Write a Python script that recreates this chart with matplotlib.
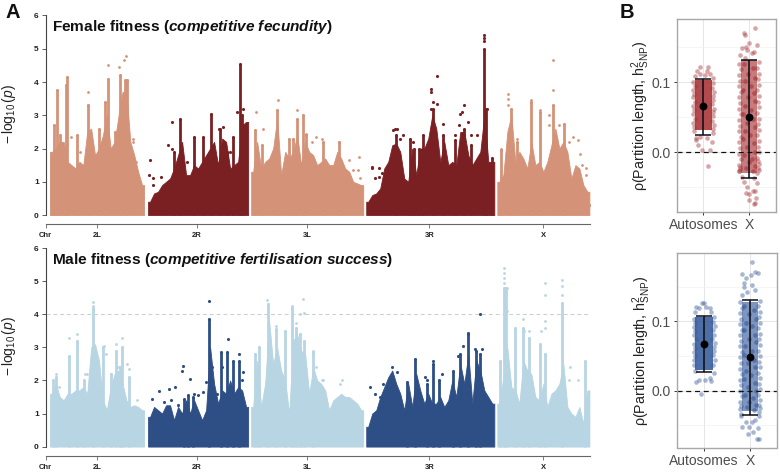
import matplotlib
matplotlib.use("Agg")
import matplotlib.pyplot as plt

plt.rcParams['font.family'] = ['Liberation Sans', 'DejaVu Sans']
plt.rcParams['mathtext.fontset'] = 'custom'
plt.rcParams['mathtext.rm'] = 'Liberation Sans'
plt.rcParams['mathtext.it'] = 'Liberation Sans:italic'
plt.rcParams['mathtext.bf'] = 'Liberation Sans:bold'
plt.rcParams['mathtext.bfit'] = 'Liberation Sans:italic:bold'

# genome layout (Mb)
arm_names = ['2L', '2R', '3L', '3R', 'X']
arm_start = [0.0, 24.5, 50.25, 79.0, 111.75]
arm_len = [23.5, 25.0, 28.0, 32.0, 23.0]
arm_tick = [11.7, 36.75, 64.2, 94.75, 123.25]

# Female: envelope of -log10(p) along each arm
f_2L = [1.9,2.0,2.2,2.2,1.6,1.5,1.4,1.6,1.5,2.5,2.6,1.8,2.0,2.4,3.0,2.0,2.2,3.0,3.7,3.7,2.2,1.8,1.3,0.9]
f_2R = [0.4,0.65,0.7,0.9,1.0,1.1,1.4,1.8,2.2,1.2,1.2,1.5,1.4,1.6,1.8,2.0,2.2,1.5,2.3,2.2,1.4,1.5,1.6,2.7,2.8]
f_3L = [1.3,2.2,1.4,1.6,1.7,2.0,2.9,1.2,1.9,1.7,1.9,2.4,1.5,2.2,1.9,1.8,1.5,1.6,1.7,1.5,1.5,1.9,1.7,1.4,1.3,1.0,0.95,0.9]
f_3R = [0.4,0.6,0.65,0.8,1.4,1.6,2.1,2.15,1.9,1.1,1.0,2.0,1.2,2.0,2.0,2.3,3.0,2.6,1.6,2.2,1.5,1.6,1.5,2.5,2.5,1.8,1.5,1.7,1.9,3.0,1.6,1.6]
f_X = [1.0,1.2,2.5,3.0,1.6,1.9,1.7,1.4,2.2,1.5,1.6,1.3,1.6,2.1,2.6,2.0,2.2,1.9,1.1,1.5,1.4,0.9,0.7]
f_envelope = [f_2L, f_2R, f_3L, f_3R, f_X]
# narrow peaks
f_peak_x = [1.1,1.8,2.5,3.9,4.3,6.8,9.6,12.2,13.8,14.5,16.2,17.4,18.75,19.2,
            31.1,32.6,35.9,38.2,40.2,42.5,44.2,45.8,47.5,48.0,
            51.3,53.0,56.8,59.7,60.8,61.8,63.2,64.0,68.3,72.1,
            86.5,90.0,91.0,92.3,93.3,95.8,98.3,101.1,103.3,105.2,108.3,109.0,110.4,
            112.75,115.2,116.7,120.2,122.3,125.7,128.3]
f_peak_h = [2.7,3.75,2.4,3.9,4.15,2.4,3.3,2.6,3.4,4.1,2.5,4.2,4.05,4.05,
            1.9,2.9,2.35,2.35,3.05,2.6,1.9,2.35,4.55,3.0,
            2.55,2.1,3.15,2.3,2.3,2.9,3.0,2.4,2.2,2.2,
            2.4,2.3,2.0,2.0,2.4,3.2,2.4,2.25,2.6,2.1,5.0,3.2,1.7,
            1.95,3.2,2.2,3.4,3.1,3.3,2.75]
# isolated SNPs on light arms, then dark arms
f_light_x = [14.4,17.25,18.6,19.0,9.6,5.2,20.7,20.8,21.5,7.5,
             51.4,53.1,56.9,61.75,66.5,65.4,64.0,67.9,77.1,72.1,74.6,75.8,76.9,77.5,
             125.75,125.75,114.4,114.4,114.4,120.2,122.3,124.75,124.75,130.7,131.8,116.7,112.75,133.9,133.9,134.8,127.1,129.6,132.5,132.9]
f_light_y = [4.5,4.45,4.65,4.78,3.7,2.35,2.3,2.2,1.6,1.9,
             3.1,2.6,3.45,3.15,2.35,2.2,2.45,2.3,1.75,2.2,1.65,1.35,1.35,1.1,
             4.65,3.75,3.65,3.5,3.3,3.45,3.15,3.0,2.7,2.35,2.25,2.3,2.0,1.4,1.2,0.3,2.7,2.2,1.85,1.5]
f_dark_x = [24.9,24.75,25.8,25.8,27.8,29.5,30.5,30.5,34.2,42.25,43.3,45.0,46.8,48.3,49.0,
            108.3,108.3,108.3,96.6,95.25,95.25,95.8,96.6,95.25,103.3,102.9,102.5,98.2,102.1,104.3,86.25,85.7,86.7,88.3,87.5,
            80.4,80.4,82.3,81.25,82.3,82.9,109.2,90.8,106.7,105.2,101.25]
f_dark_y = [1.65,1.2,0.9,1.1,1.15,2.1,2.0,2.8,1.6,2.6,2.65,1.9,3.1,3.2,2.2,
            5.4,5.33,5.23,4.18,3.8,3.7,3.4,3.35,3.2,3.3,3.1,3.05,2.75,2.7,2.8,2.6,2.55,2.6,2.4,2.3,
            1.45,1.4,1.4,1.1,1.15,1.25,3.2,2.2,2.4,2.4,2.4]

# Male
m_2L = [1.6,1.9,1.5,1.4,1.6,1.6,1.7,1.7,1.8,1.6,3.0,3.1,2.6,1.4,1.1,1.8,2.2,2.3,1.9,1.4,1.2,1.25,1.2,1.1]
m_2R = [0.9,1.2,1.1,1.0,1.25,1.25,0.8,1.2,1.0,1.4,1.0,1.4,1.1,0.8,1.1,3.0,1.9,1.3,1.7,1.6,2.0,1.6,1.8,1.7,1.2]
m_3L = [1.2,2.6,1.2,1.9,3.8,2.5,3.0,2.3,2.0,1.0,3.2,3.4,2.9,2.8,1.6,2.4,2.0,1.9,1.7,1.1,1.4,1.5,1.6,1.5,1.5,1.4,1.3,1.1]
m_3R = [0.6,1.0,1.1,1.5,1.8,2.1,2.3,1.9,1.6,1.1,1.9,1.2,2.2,1.7,1.3,1.6,1.3,1.3,1.5,1.2,1.4,2.0,1.5,2.5,1.9,2.8,1.3,2.6,2.3,1.7,1.5,1.3]
m_X = [1.3,2.1,3.0,1.8,1.7,1.3,2.6,2.3,2.2,1.5,1.4,1.9,1.2,1.6,1.7,1.9,2.5,1.2,1.0,0.9,1.2,0.7,1.7]
m_envelope = [m_2L, m_2R, m_3L, m_3R, m_X]
m_peak_x = [0.8,1.5,4.75,6.8,8.6,10.8,13.2,15.25,16.4,17.5,18.1,19.8,
            33.5,34.6,35.7,39.8,42.7,44.3,45.6,47.25,
            51.25,52.1,54.4,56.5,58.8,60.5,61.5,62.5,63.5,65.6,
            89.3,91.25,94.2,95.8,97.3,100.6,102.5,104.3,106.3,107.5,
            112.5,113.5,113.8,116.25,118.1,119.75,122.5,123.75,128.0,133.75]
m_peak_h = [2.0,2.1,2.75,3.2,2.0,4.2,3.0,2.2,2.9,2.4,3.0,2.1,
            1.45,1.55,1.5,3.85,2.85,2.85,2.6,2.6,
            2.8,3.0,4.3,3.55,3.5,4.2,3.6,3.4,3.2,2.85,
            1.95,2.65,1.9,2.5,2.0,2.3,2.8,3.4,2.9,2.8,
            2.6,4.8,4.8,3.6,3.6,3.3,3.1,2.8,4.35,2.6]
m_light_x = [10.8,10.8,10.8,4.75,6.8,13.6,16.4,18.1,19.2,19.8,21.7,1.5,2.3,8.75,9.3,14.0,17.1,
             54.25,60.5,63.2,62.5,63.5,56.5,61.5,65.6,66.5,67.9,72.9,72.5,68.3,
             113.5,113.5,113.5,113.5,114.25,114.25,123.7,123.7,128.0,128.0,128.0,118.1,123.75,123.75,118.5,119.7,122.75,130.0,131.9,129.6]
m_light_y = [4.38,4.25,4.15,3.3,3.4,3.05,3.1,3.3,2.5,2.35,1.4,2.2,1.8,2.2,2.2,2.8,2.4,
             4.45,4.25,4.47,4.0,4.05,3.65,3.75,2.9,2.4,2.0,2.0,1.9,2.0,
             5.4,5.25,5.1,4.95,4.8,4.1,4.95,4.6,5.05,4.85,4.6,3.85,3.8,3.6,3.5,3.5,3.5,2.4,2.0,2.0]
m_dark_x = [39.8,44.4,33.3,33.1,35.0,38.9,38.2,27.3,29.7,31.25,25.6,28.5,30.2,32.1,48.3,41.8,42.9,47.25,40.4,47.9,36.1,36.9,
            107.3,104.3,103.1,101.9,106.25,107.8,95.8,97.9,93.8,85.5,86.8,80.0,81.25,82.5,83.3,94.2]
m_dark_y = [4.4,3.27,2.43,2.3,2.05,1.95,1.65,1.67,1.75,1.8,1.45,1.35,1.4,1.25,2.25,1.6,2.4,2.8,2.4,2.0,1.6,1.55,
            4.0,3.45,3.05,2.75,2.95,2.95,2.6,2.2,2.1,2.4,2.25,1.8,1.6,1.5,1.9,2.0]

# Panel B: strips (dense core range, stray points as jitter offset / value, summary)
b_groups = ['Autosomes', 'X']
fa_core = (0.032, 0.103)
fx_core = (-0.030, 0.132)
fa_off = [0.11,-0.04,0.15,-0.16,-0.11,-0.17,0.18,0.07,-0.07,-0.07,0.09,-0.15,-0.07,0.07,0.15,-0.18,0.04,0.22,
          -0.22,-0.19,-0.23,-0.20,-0.22,-0.18,-0.23,-0.20,-0.22,-0.19,-0.23,-0.21,-0.20,
          0.22,0.19,0.23,0.20,0.22,0.18,0.23,0.21,0.22,0.19,0.23,0.20,0.21]
fa_val = [-0.019,0.003,0.003,0.017,0.010,0.02,0.015,0.02,0.022,0.122,0.122,0.115,0.112,0.116,0.112,0.108,0.110,0.105,
          0.100,0.094,0.089,0.083,0.078,0.072,0.066,0.060,0.054,0.048,0.042,0.036,0.030,
          0.098,0.092,0.086,0.080,0.074,0.068,0.062,0.057,0.051,0.045,0.039,0.033,0.027]
fx_off = [0.13,-0.12,-0.09,-0.01,-0.16,-0.07,0.17,0.11,0.06,-0.2,-0.05,-0.09,-0.21,-0.16,0.17,0.11,-0.12,0.17,-0.05,-0.01,-0.07,0.13,0.08,0,0.13,0.15,0.11,
          -0.21,-0.18,-0.22,-0.19,-0.21,-0.17,-0.22,-0.20,-0.21,-0.18,-0.22,-0.19,-0.21,-0.17,-0.22,-0.20,-0.21,-0.18,-0.22,-0.19,-0.21,-0.20,
          0.21,0.18,0.22,0.19,0.21,0.17,0.22,0.20,0.21,0.18,0.22,0.19,0.21,0.17,0.22,0.20,0.21,0.18,0.22,0.19,0.21,0.20]
fx_val = [0.177,0.169,0.167,0.156,0.149,0.15,0.152,0.143,0.141,0.138,0.145,0.134,-0.027,-0.035,-0.03,-0.037,-0.042,-0.043,-0.049,-0.06,-0.058,-0.055,-0.055,-0.068,-0.072,-0.065,-0.073,
          0.126,0.118,0.110,0.102,0.094,0.086,0.078,0.070,0.062,0.054,0.046,0.038,0.030,0.022,0.014,0.006,-0.002,-0.010,-0.018,-0.024,-0.026,-0.021,
          0.128,0.120,0.112,0.104,0.096,0.088,0.080,0.072,0.064,0.056,0.048,0.040,0.032,0.024,0.016,0.008,0.000,-0.008,-0.016,-0.022,-0.025,-0.012]
# speckle inside the X strip
fx_sp_off = [-0.12,0.08,-0.03,0.13,-0.08,0.05,-0.14,0.11,-0.02,0.14,-0.10,0.04,-0.13,0.09,-0.05,0.12,-0.09,0.02,-0.14,0.10,-0.04,0.13,-0.11,0.06,-0.01,0.14,-0.07,0.08]
fx_sp_val = [0.125,0.120,0.112,0.106,0.101,0.095,0.089,0.084,0.078,0.073,0.066,0.060,0.054,0.047,0.041,0.036,0.030,0.024,0.019,0.013,0.007,0.001,-0.004,-0.009,-0.014,-0.019,-0.023,-0.027]
f_mean = [0.066, 0.050]
f_low = [0.025, -0.037]
f_high = [0.104, 0.132]
ma_core = (0.030, 0.107)
mx_core = (-0.030, 0.128)
ma_off = [-0.07,0.16,0.015,-0.17,-0.1,0.12,-0.04,0,-0.17,0.12,-0.1,0.05,-0.2,0.16,
          -0.22,-0.19,-0.23,-0.20,-0.22,-0.18,-0.23,-0.20,-0.22,-0.19,-0.23,-0.21,-0.20,
          0.22,0.19,0.23,0.20,0.22,0.18,0.23,0.21,0.22,0.19,0.23,0.20,0.21]
ma_val = [-0.005,0.014,0.015,0.012,0.015,0.018,0.127,0.127,0.121,0.119,0.119,0.121,0.114,0.114,
          0.104,0.098,0.092,0.086,0.080,0.074,0.068,0.062,0.056,0.050,0.044,0.037,0.029,
          0.106,0.099,0.093,0.087,0.081,0.075,0.069,0.063,0.057,0.051,0.044,0.037,0.026]
mx_off = [0.04,0.12,0.18,0.02,-0.18,-0.09,-0.13,0.04,-0.14,0.12,-0.07,-0.18,-0.19,0.19,0.12,-0.09,0.04,-0.18,-0.03,0.18,0.07,-0.05,0.15,0.19,
          -0.21,-0.18,-0.22,-0.19,-0.21,-0.17,-0.22,-0.20,-0.21,-0.18,-0.22,-0.19,-0.21,-0.17,-0.22,-0.20,-0.21,-0.18,-0.22,-0.19,-0.21,-0.20,
          0.21,0.18,0.22,0.19,0.21,0.17,0.22,0.20,0.21,0.18,0.22,0.19,0.21,0.17,0.22,0.20,0.21,0.18,0.22,0.19,0.21,0.20]
mx_val = [0.185,0.171,0.170,0.167,0.168,0.162,0.155,0.152,0.15,0.145,0.143,0.138,-0.037,-0.037,-0.042,-0.045,-0.045,-0.052,-0.052,-0.054,-0.059,-0.062,-0.07,-0.07,
          0.128,0.120,0.112,0.104,0.096,0.088,0.080,0.072,0.064,0.056,0.048,0.040,0.032,0.024,0.016,0.008,0.000,-0.008,-0.016,-0.022,-0.026,-0.033,
          0.130,0.122,0.114,0.106,0.098,0.090,0.082,0.074,0.066,0.058,0.050,0.042,0.034,0.026,0.018,0.010,0.002,-0.006,-0.014,-0.020,-0.025,-0.031]
mx_sp_off = [-0.12,0.08,-0.03,0.13,-0.08,0.05,-0.14,0.11,-0.02,0.14,-0.10,0.04,-0.13,0.09,-0.05,0.12,-0.09,0.02,-0.14,0.10,-0.04,0.13,-0.11,0.06,-0.01,0.14,-0.07,0.08]
mx_sp_val = [0.122,0.117,0.110,0.104,0.098,0.093,0.087,0.081,0.075,0.070,0.064,0.058,0.052,0.045,0.040,0.034,0.028,0.022,0.017,0.011,0.005,-0.001,-0.006,-0.011,-0.016,-0.020,-0.024,-0.028]
m_mean = [0.068, 0.049]
m_low = [0.027, -0.035]
m_high = [0.108, 0.131]

F_LIGHT, F_DARK = '#D49378', '#7A1F22'
M_LIGHT, M_DARK = '#B8D5E3', '#2E4E86'
TXT = '#222222'
W, H = 780, 473
fig = plt.figure(figsize=(W/100, H/100), dpi=100)


def axes_px(l, t, r, b):
    return fig.add_axes([l/W, 1-b/H, (r-l)/W, (b-t)/H])


def manhattan(ax, env, peak_x, peak_h, lx, ly, dx, dy, light, dark, title, title_y):
    for i, (name, s, ln) in enumerate(zip(arm_names, arm_start, arm_len)):
        vals = env[i]
        c = dark if i % 2 else light
        w = ln/len(vals)
        xs = [s+(k+0.5)*w for k in range(len(vals))]
        ax.fill_between([s]+xs+[s+ln], 0, [vals[0]]+vals+[vals[-1]], color=c, lw=0.6)
        px = [x for x in peak_x if s <= x <= s+ln]
        ph = [h for x, h in zip(peak_x, peak_h) if s <= x <= s+ln]
        ax.vlines(px, 0, ph, color=c, lw=2.0)
        ax.scatter(px, ph, s=5, color=c, lw=0)
    ax.scatter(lx, ly, s=4, color=light, lw=0)
    ax.scatter(dx, dy, s=5, color=dark, lw=0)
    ax.set_xlim(-1.07, 134.9)
    ax.set_ylim(-0.27, 6)
    for s in ['top', 'right']:
        ax.spines[s].set_visible(False)
    ax.spines['left'].set_bounds(0, 6)
    ax.spines['left'].set_color('#444444')
    ax.spines['bottom'].set_color('#666666')
    ax.spines['left'].set_linewidth(0.8)
    ax.spines['bottom'].set_linewidth(0.8)
    ax.set_yticks(range(7))
    ax.set_xticks([-1.07]+arm_tick)
    ax.set_xticklabels(['Chr']+arm_names, fontsize=5.5, fontweight='bold', color=TXT)
    ax.tick_params(axis='x', length=3, width=0.6, pad=3, color='#666666')
    ax.tick_params(axis='y', length=3, width=0.6, pad=2, color='#444444', labelsize=6, labelcolor=TXT)
    for t in ax.get_yticklabels():
        t.set_fontweight('bold')
    ax.set_ylabel(r'$-\,\log_{10}(p)$', fontsize=10, color=TXT)
    ax.yaxis.set_label_coords(-0.051, 0.527)
    ax.text(0.5, title_y, title, fontsize=11.05, fontweight='bold', color='#111111', va='center')


ax1 = axes_px(45.7, 15.5, 590, 224)
manhattan(ax1, f_envelope, f_peak_x, f_peak_h, f_light_x, f_light_y, f_dark_x, f_dark_y, F_LIGHT, F_DARK,
          r'Female fitness ($\mathbfit{competitive\ fecundity}$)', 5.65)
ax2 = axes_px(45.7, 248.3, 590, 455.5)
ax2.axhline(4, color='#C8CDD2', lw=0.7, ls=(0, (4, 3)), zorder=0)
manhattan(ax2, m_envelope, m_peak_x, m_peak_h, m_light_x, m_light_y, m_dark_x, m_dark_y, M_LIGHT, M_DARK,
          r'Male fitness ($\mathbfit{competitive\ fertilisation\ success}$)', 5.65)


def strips(ax, a_core, x_core, a_off, a_val, x_off, x_val, sp_off, sp_val, mean, low, high, color, ylim):
    ax.set_xlim(0.41, 2.59)
    ax.set_ylim(*ylim)
    ax.set_yticks([0.0, 0.1])
    ax.set_yticklabels(['0.0', '0.1'])
    ax.set_yticks([-0.05, 0.05, 0.15], minor=True)
    ax.set_xticks([1, 2])
    ax.set_xticklabels(b_groups)
    ax.grid(True, which='major', color='#E6E6E6', lw=0.7)
    ax.grid(True, which='minor', axis='y', color='#F1F1F1', lw=0.5)
    ax.set_axisbelow(True)
    ax.tick_params(which='minor', length=0)
    ax.tick_params(axis='both', which='major', labelsize=10, labelcolor='#4D4D4D', color='#333333', length=2.5, width=0.7, pad=2)
    for s in ax.spines.values():
        s.set_color('#A8A8A8')
        s.set_linewidth(1.0)
    ax.bar([1], [a_core[1]-a_core[0]], bottom=[a_core[0]], width=0.38, color=color, alpha=0.85, lw=0)
    ax.bar([2], [x_core[1]-x_core[0]], bottom=[x_core[0]], width=0.36, color=color, alpha=0.62, lw=0)
    ax.scatter([1+o for o in a_off], a_val, s=11, color=color, alpha=0.42, lw=0)
    ax.scatter([2+o for o in x_off], x_val, s=11, color=color, alpha=0.42, lw=0)
    ax.scatter([2+o for o in sp_off], sp_val, s=11, color=color, alpha=0.55, lw=0)
    ax.axhline(0, color='#111111', lw=0.9, ls=(0, (4, 3)))
    ax.errorbar([1, 2], mean, yerr=[[m-l for m, l in zip(mean, low)], [h-m for m, h in zip(mean, high)]],
                fmt='none', ecolor='#0B0B14', elinewidth=1.1, capsize=6, capthick=1.1, zorder=5)
    ax.scatter([1, 2], mean, s=32, color='black', zorder=6, lw=0)
    ax.set_ylabel(r'$\mathrm{\rho}$(Partition length, h$^{2}_{\mathrm{SNP}}$)', fontsize=10.3, color='#222222', labelpad=-1)


ax3 = axes_px(676.5, 19, 776, 212)
strips(ax3, fa_core, fx_core, fa_off, fa_val, fx_off, fx_val, fx_sp_off, fx_sp_val, f_mean, f_low, f_high, '#A32A2E',
       ((152.3-212)/703, (152.3-19)/703))
ax4 = axes_px(677, 253, 777, 447.5)
strips(ax4, ma_core, mx_core, ma_off, ma_val, mx_off, mx_val, mx_sp_off, mx_sp_val, m_mean, m_low, m_high, '#2F5597',
       ((390.7-447.5)/693, (390.7-253)/693))

fig.text(5/W, 1-12/H, 'A', fontsize=14.5, fontweight='bold', color='#111111', va='center')
fig.text(620/W, 1-12/H, 'B', fontsize=14.5, fontweight='bold', color='#111111', va='center')
fig.savefig('out.png', dpi=100)
